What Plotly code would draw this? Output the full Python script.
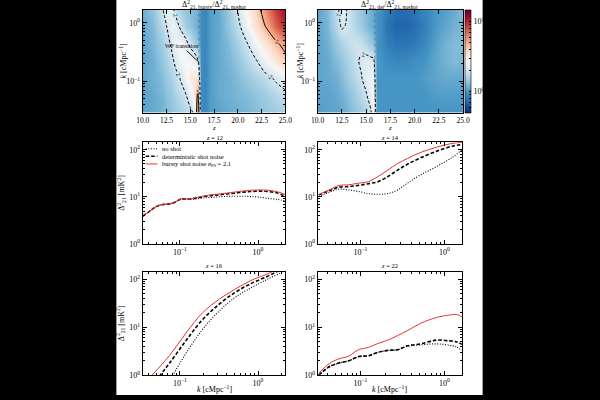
import numpy as np
import plotly.graph_objects as go

W, H = 600, 400
def fx(p): return p / W
def fy(p): return 1 - p / H

FONT = "Liberation Serif"

# ---------------- heatmap data (ratio) ----------------
Z_GRID = [10, 11, 12, 12.5, 13, 13.5, 14, 14.5, 15, 15.5, 15.8, 16.1, 16.5, 17, 18, 19, 20, 21, 22, 23, 24, 25]
K_GRID = [0.0282, 0.0562, 0.112, 0.224, 0.447, 0.891, 1.78]

RATIO_BURSTY = [
    [1.1, 1.15, 1.2, 1.3, 1.35, 1.45, 1.55, 1.65, 1.8, 2.1, 7.5, 0.95, 0.9, 1.05, 1.1, 1.15, 1.2, 1.25, 1.3, 1.4, 1.5, 1.6],
    [1.1, 1.15, 1.25, 1.35, 1.45, 1.6, 1.75, 1.9, 2.4, 3.5, 5.5, 0.95, 0.9, 1.05, 1.15, 1.2, 1.25, 1.3, 1.4, 1.5, 1.65, 1.8],
    [1.1, 1.2, 1.3, 1.45, 1.6, 1.8, 2.05, 2.6, 3.3, 3.4, 3.5, 0.95, 0.9, 1.05, 1.15, 1.2, 1.3, 1.45, 1.6, 1.8, 2.1, 2.4],
    [1.1, 1.2, 1.4, 1.55, 1.8, 2.2, 2.6, 2.8, 2.6, 2.3, 2.05, 0.95, 0.9, 1.05, 1.15, 1.25, 1.4, 1.7, 2.0, 2.6, 3.3, 4.2],
    [1.1, 1.25, 1.5, 1.75, 2.1, 2.5, 2.6, 2.2, 1.8, 1.5, 1.35, 0.95, 0.9, 1.05, 1.15, 1.3, 1.55, 2.0, 2.7, 3.6, 4.6, 6.0],
    [1.15, 1.3, 1.7, 2.0, 2.5, 2.3, 1.8, 1.5, 1.35, 1.25, 1.2, 0.95, 0.9, 1.05, 1.15, 1.4, 1.8, 2.6, 3.7, 5.2, 7.5, 10.0],
    [1.2, 1.4, 1.9, 2.4, 2.2, 1.7, 1.5, 1.4, 1.3, 1.25, 1.2, 0.95, 0.9, 1.05, 1.15, 1.45, 2.05, 3.0, 4.2, 6.5, 9.0, 12.0],
]
RATIO_DET = [
    [1.05, 1.1, 1.1, 1.15, 1.2, 1.3, 1.4, 1.5, 1.65, 1.9, 3.8, 1.0, 1.0, 1.0, 1.0, 1.0, 1.0, 1.0, 1.0, 1.0, 1.0, 1.0],
    [1.1, 1.1, 1.15, 1.2, 1.3, 1.4, 1.55, 1.7, 1.9, 2.4, 3.0, 1.0, 1.0, 1.0, 1.0, 1.0, 1.0, 1.0, 1.05, 1.05, 1.05, 1.05],
    [1.1, 1.15, 1.2, 1.3, 1.45, 1.6, 1.75, 1.95, 2.3, 2.5, 2.6, 1.0, 1.0, 1.0, 1.0, 1.0, 1.0, 1.05, 1.1, 1.15, 1.15, 1.15],
    [1.1, 1.15, 1.3, 1.4, 1.55, 1.7, 1.9, 2.1, 2.2, 2.15, 2.1, 1.0, 1.0, 0.95, 0.9, 0.9, 0.95, 1.0, 1.1, 1.2, 1.3, 1.25],
    [1.1, 1.2, 1.45, 1.6, 1.75, 1.85, 1.9, 1.8, 1.6, 1.45, 1.35, 1.0, 0.95, 0.85, 0.78, 0.78, 0.82, 0.9, 1.05, 1.2, 1.3, 1.3],
    [1.1, 1.25, 1.7, 2.1, 1.95, 1.8, 1.6, 1.45, 1.3, 1.2, 1.15, 1.0, 0.95, 0.8, 0.7, 0.7, 0.75, 0.85, 1.0, 1.1, 1.2, 1.3],
    [1.1, 1.3, 1.85, 2.3, 2.0, 1.75, 1.55, 1.4, 1.3, 1.2, 1.15, 1.0, 0.95, 0.85, 0.75, 0.75, 0.8, 0.9, 1.0, 1.05, 1.15, 1.3],
]
CBAR_RANGE = [0.5, 14.8]
HEAT_K_RANGE = [0.029, 1.66]
WF_TRANSITION_Z = 15.9
CONTOUR_DASHED = 2
CONTOUR_SOLID = 5

# ---------------- power spectra ----------------
K12 = [0.0335, 0.04, 0.046, 0.052, 0.058, 0.068, 0.082, 0.095, 0.103, 0.115, 0.133, 0.16, 0.194,
       0.25, 0.316, 0.4, 0.5, 0.65, 0.818, 1.05, 1.33, 1.78, 2.24]
NOSHOT12 = [3.9, 4.8, 5.7, 6.4, 6.8, 7.0, 7.4, 8.4, 9.0, 9.0, 8.8, 9.0, 9.4,
            9.7, 10.0, 10.2, 10.3, 10.3, 10.1, 9.8, 9.3, 8.8, 8.2]
DET12 = [3.9, 4.8, 5.7, 6.4, 6.8, 7.0, 7.4, 8.4, 9.0, 9.0, 9.0, 9.4, 10.0,
         10.6, 11.0, 11.5, 12.0, 12.6, 13.0, 13.2, 13.0, 12.0, 10.2]
BURSTY12 = [3.9, 4.8, 5.7, 6.4, 6.8, 7.0, 7.4, 8.4, 9.0, 9.0, 9.0, 9.6, 10.3,
            11.0, 11.5, 12.0, 12.6, 13.3, 13.8, 14.0, 13.8, 12.8, 11.2]

K14 = [0.0319, 0.0425, 0.0555, 0.0725, 0.0948, 0.124, 0.162, 0.212, 0.277, 0.362, 0.516, 0.807, 1.26, 1.61]
NOSHOT14 = [10.0, 12.5, 14.5, 14.0, 13.0, 11.7, 11.3, 11.8, 14.0, 19.5, 29, 44, 70, 100]
DET14 = [11.0, 13.5, 16.0, 16.5, 17.5, 19.0, 21, 27, 37, 49, 67, 93, 120, 129]
BURSTY14 = [11.2, 14.0, 17.4, 18.0, 19.5, 21.0, 27, 37, 51, 65, 87, 113, 137, 144]

K16_NOSHOT = [0.0335, 0.06, 0.081, 0.12, 0.195, 0.316, 0.5, 0.81, 1.32, 1.94, 2.24]
NOSHOT16 = [0.11, 0.47, 1.0, 2.9, 9, 21.5, 41, 66, 100, 135, 150]
K16_DET = [0.0335, 0.056, 0.074, 0.12, 0.195, 0.316, 0.5, 0.81, 1.32, 1.76, 2.24]
DET16 = [0.33, 1.0, 1.8, 5.3, 14.4, 30, 52, 81, 115, 145, 170]
K16_BURSTY = [0.0335, 0.0437, 0.074, 0.12, 0.195, 0.316, 0.5, 0.81, 1.32, 1.6, 2.24]
BURSTY16 = [0.66, 1.0, 2.6, 7.6, 20, 38, 61, 94, 129, 150, 185]

K22 = [0.0319, 0.0425, 0.0555, 0.0725, 0.0948, 0.124, 0.162, 0.212, 0.277, 0.362, 0.516, 0.807, 1.15, 1.38, 1.61]
NOSHOT22 = [1.0, 1.5, 1.8, 2.0, 2.45, 2.55, 3.0, 3.3, 3.4, 4.0, 4.3, 4.5, 4.2, 3.9, 3.3]
DET22 = [1.0, 1.5, 1.8, 2.0, 2.45, 2.55, 3.0, 3.3, 3.4, 4.1, 4.5, 5.4, 5.2, 5.0, 4.4]
BURSTY22 = [1.1, 1.75, 2.2, 2.5, 3.4, 3.8, 4.6, 5.4, 6.7, 8.5, 12, 16, 18, 18.5, 16.6]

LEGEND = ["no shot", "deterministic shot noise", "bursty shot noise <i>σ</i><sub>PS</sub> = 2.1"]
STYLES = [dict(color="black", width=1.1, dash="1px,1.6px"),
          dict(color="black", width=1.6, dash="3.5px,2px"),
          dict(color="#e8322b", width=1.0)]

# ---------------- layout geometry (pixels) ----------------
COLS = [(139, 285), (318, 467)]
ROWS = [(10, 114), (144, 247), (275, 380)]
LINE_XRANGES = [[-1.475, 0.35], [-1.51, 0.21]]

RDBU_R = ["#053061", "#2166ac", "#4393c3", "#92c5de", "#d1e5f0", "#f7f7f7",
          "#fddbc7", "#f4a582", "#d6604d", "#b2182b", "#67001f"]
colorscale = [[i / 10, c] for i, c in enumerate(RDBU_R)]

fig = go.Figure()

tickfont = dict(family=FONT, size=8, color="black")
sup = lambda e: "10<sup>%s</sup>" % e

def minor_vals(decades):
    out = []
    for d in decades:
        for m in range(2, 10):
            out.append(m * 10.0 ** d)
    return out

axis_common = dict(showline=True, linecolor="black", linewidth=1, mirror="allticks",
                   ticks="inside", ticklen=4, tickwidth=0.8, tickcolor="black",
                   showgrid=False, zeroline=False, tickfont=tickfont)

logk = np.log10(K_GRID)
heat_yr = [float(np.log10(HEAT_K_RANGE[0])), float(np.log10(HEAT_K_RANGE[1]))]
cb = np.log10(CBAR_RANGE)

for i, ratio in enumerate([RATIO_BURSTY, RATIO_DET]):
    xa = "x" if i == 0 else "x2"
    ya = "y" if i == 0 else "y2"
    r = np.array(ratio)
    cb_vals = list(np.log10([0.5, 0.6, 0.7, 0.8, 0.9] + [1] + list(range(2, 10)) + [10]))
    cb_text = [""] * 5 + [sup("0")] + [""] * 8 + [sup("1")]
    fig.add_trace(go.Heatmap(
        x=Z_GRID, y=logk, z=np.log10(r), zmin=cb[0], zmax=cb[1], colorscale=colorscale,
        zsmooth="best", xaxis=xa, yaxis=ya, showscale=(i == 1),
        colorbar=dict(x=fx(469), xanchor="left", xpad=0, ypad=0, y=fy(62), yanchor="middle",
                      len=104 / H, lenmode="fraction", thickness=6, outlinewidth=0.6,
                      outlinecolor="black", tickvals=cb_vals, ticktext=cb_text, ticks="inside",
                      ticklen=2, tickcolor="black",
                      tickfont=dict(family=FONT, size=8, color="black")),
    ))
    for lvl, dash in [(CONTOUR_DASHED, "3px,2px"), (CONTOUR_SOLID, "solid")]:
        fig.add_trace(go.Contour(
            x=Z_GRID, y=logk, z=r, xaxis=xa, yaxis=ya, showscale=False,
            autocontour=False,
            contours=dict(coloring="none", start=lvl, end=lvl, size=1, showlabels=True,
                          labelfont=dict(family=FONT, size=6, color="black"), labelformat=".0f"),
            line=dict(color="black", width=1, dash=dash), hoverinfo="skip",
        ))
    fig.add_shape(type="line", xref=xa, yref=ya, x0=WF_TRANSITION_Z, x1=WF_TRANSITION_Z,
                  y0=heat_yr[0], y1=heat_yr[1], line=dict(color="rgba(90,90,90,0.7)", width=0.8, dash="dot"))

# line panels
panels = [
    (3, 0, [(K12, NOSHOT12), (K12, DET12), (K12, BURSTY12)]),
    (4, 1, [(K14, NOSHOT14), (K14, DET14), (K14, BURSTY14)]),
    (5, 0, [(K16_NOSHOT, NOSHOT16), (K16_DET, DET16), (K16_BURSTY, BURSTY16)]),
    (6, 1, [(K22, NOSHOT22), (K22, DET22), (K22, BURSTY22)]),
]
for n, col, curves in panels:
    for j, (kk, vv) in enumerate(curves):
        fig.add_trace(go.Scatter(x=kk, y=vv, mode="lines", line=STYLES[j],
                                 xaxis="x%d" % n, yaxis="y%d" % n, name=LEGEND[j],
                                 showlegend=False, line_shape="spline"))

layout = dict(width=W, height=H, margin=dict(l=0, r=0, t=0, b=0),
              paper_bgcolor="black", plot_bgcolor="white", showlegend=False)

# heatmap axes
for i in range(2):
    c = COLS[i]
    sx = "" if i == 0 else "2"
    layout["xaxis" + sx] = dict(axis_common, domain=[fx(c[0]), fx(c[1])], range=[10, 25],
                                anchor="y" + sx, tickvals=[10, 12.5, 15, 17.5, 20, 22.5, 25],
                                ticktext=["10.0", "12.5", "15.0", "17.5", "20.0", "22.5", "25.0"],
                                tickfont=dict(family=FONT, size=7.5, color="black"))
    layout["yaxis" + sx] = dict(axis_common, domain=[fy(ROWS[0][1]), fy(ROWS[0][0])], range=heat_yr,
                                anchor="x" + sx, tickvals=[-1, 0], ticktext=[sup("−1"), sup("0")],
                                minor=dict(ticks="inside", ticklen=2, tickcolor="black",
                                           tickvals=list(np.log10(minor_vals([-2, -1, 0])))))

for n, col, _ in panels:
    row = 1 if n in (3, 4) else 2
    c = COLS[col]
    rr = ROWS[row]
    layout["xaxis%d" % n] = dict(axis_common, type="log", domain=[fx(c[0]), fx(c[1] - (1 if col == 1 else 0))],
                                 range=LINE_XRANGES[col], anchor="y%d" % n,
                                 tickvals=[0.1, 1], ticktext=[sup("−1"), sup("0")],
                                 minor=dict(ticks="inside", ticklen=2, tickcolor="black",
                                            tickvals=minor_vals([-2, -1, 0])))
    layout["yaxis%d" % n] = dict(axis_common, type="log", domain=[fy(rr[1]), fy(rr[0])],
                                 range=[0, 2.16], anchor="x%d" % n,
                                 tickvals=[1, 10, 100], ticktext=[sup("0"), sup("1"), sup("2")],
                                 minor=dict(ticks="inside", ticklen=2, tickcolor="black",
                                            tickvals=minor_vals([0, 1, 2])))

fig.update_layout(**layout)

# white figure area
fig.add_shape(type="rect", xref="paper", yref="paper", x0=fx(112), x1=fx(487), y0=0, y1=1,
              fillcolor="white", line=dict(width=0), layer="below")

def ann(text, x, y, size=9, angle=0, xanchor="center"):
    fig.add_annotation(text=text, x=fx(x), y=fy(y), xref="paper", yref="paper",
                       showarrow=False, textangle=angle, xanchor=xanchor, yanchor="middle",
                       font=dict(family=FONT, size=size, color="black"))

kl = "<i>k</i> [cMpc<sup>−1</sup>]"
dl = "Δ<sup>2</sup><sub>21</sub> [mK<sup>2</sup>]"
ann("Δ<sup>2</sup><sub>21, bursty</sub>/Δ<sup>2</sup><sub>21, noshot</sub>", 212, 5, 8)
ann("Δ<sup>2</sup><sub>21, det</sub>/Δ<sup>2</sup><sub>21, noshot</sub>", 392, 5, 8)
ann("<i>z</i>", 212, 130, 7)
ann("<i>z</i>", 392, 130, 7)
ann(kl, 119, 62, 8, -90)
ann(kl, 300, 62, 8, -90)
ann("<i>z</i> = 12", 212, 139.5, 6.5)
ann("<i>z</i> = 14", 392, 139.5, 6.5)
ann("<i>z</i> = 16", 212, 269, 6.5)
ann("<i>z</i> = 22", 392, 269, 6.5)
ann(dl, 117, 195, 8, -90)
ann(dl, 117, 327, 8, -90)
ann(kl, 212, 394, 8)
ann(kl, 392, 394, 8)

# WF transition annotation
fig.add_annotation(text="WF transition", x=WF_TRANSITION_Z, y=-0.675, xref="x", yref="y",
                   ax=-17, ay=-16, showarrow=True, arrowhead=0, arrowwidth=0.9, arrowcolor="black",
                   font=dict(family=FONT, size=6, color="black"))

# manual legend
for j, yy in enumerate([150.7, 158.3, 166]):
    st = STYLES[j]
    fig.add_shape(type="line", xref="paper", yref="paper", x0=fx(142), x1=fx(154), y0=fy(yy), y1=fy(yy),
                  line=dict(color=st["color"], width=st["width"], dash=st.get("dash", "solid")))
    ann(LEGEND[j], 157, yy, 6.5, 0, "left")

fig.write_html("out.html")
